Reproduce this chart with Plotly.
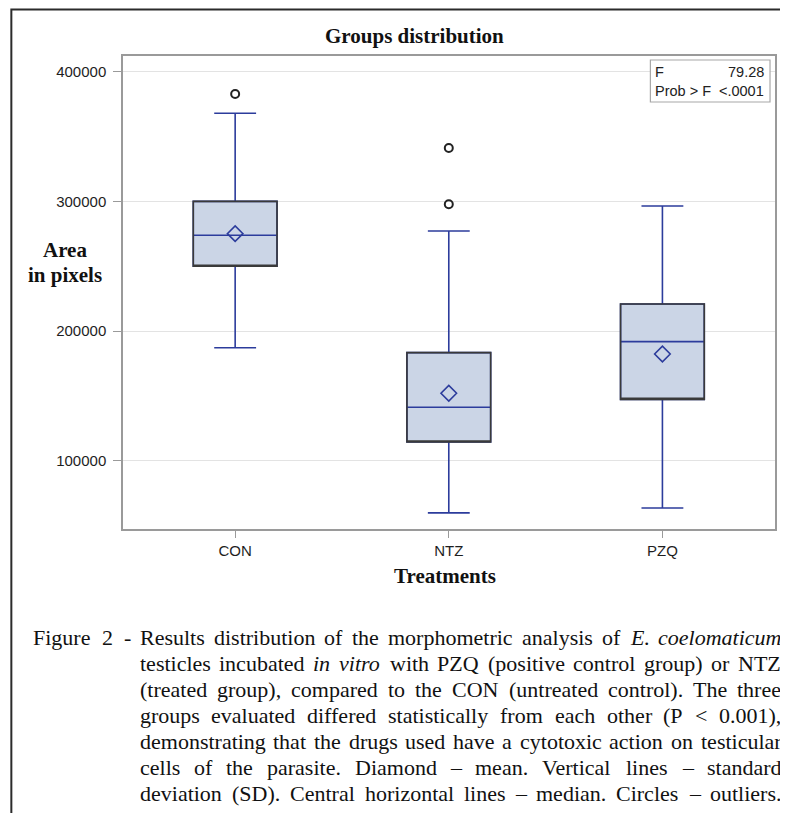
import plotly.graph_objects as go

# ---------------- data ----------------
categories = ["CON", "NTZ", "PZQ"]
q1 = [249900, 114400, 147300]
median = [273800, 141200, 191800]
q3 = [300000, 183300, 220800]
lower_whisker = [187100, 59700, 63500]
upper_whisker = [367900, 277100, 296400]
means = [275100, 152000, 182300]
outlier_groups = ["CON", "NTZ", "NTZ"]
outlier_values = [382800, 341200, 297700]
y_ticks = [100000, 200000, 300000, 400000]

title_text = "Groups distribution"
x_title = "Treatments"
y_title_lines = ["Area", "in pixels"]
stats_labels = ["F", "Prob > F"]
stats_values = ["79.28", "&lt;.0001"]

caption_lines = [
    "Figure 2 - Results distribution of the morphometric analysis of *E.* *coelomaticum*",
    "testicles incubated *in* *vitro* with PZQ (positive control group) or NTZ",
    "(treated group), compared to the CON (untreated control). The three",
    "groups evaluated differed statistically from each other (P < 0.001),",
    "demonstrating that the drugs used have a cytotoxic action on testicular",
    "cells of the parasite. Diamond – mean. Vertical lines – standard",
    "deviation (SD). Central horizontal lines – median. Circles – outliers.",
]

# ---------------- styling ----------------
OFF = 8                      # page body margin of the html page
W, H = 788 - OFF, 813 - OFF  # figure size so that it fills the window
L, R, T, B = 123, 777, 56, 529   # plot area in window pixels
BLUE = "#2c3c9c"
FILL = "#cbd5e6"
AXIS = "#9a9a9a"
SANS = "Liberation Sans, Arial, sans-serif"
SERIF = "Liberation Serif, Times New Roman, serif"


def px(x):
    return (x - L) / (R - L)


def py(y):
    return (B - y) / (B - T)


fig = go.Figure()

fig.add_trace(go.Box(
    x=categories, q1=q1, median=median, q3=q3,
    lowerfence=lower_whisker, upperfence=upper_whisker,
    width=0.392, whiskerwidth=0.5, fillcolor=FILL,
    line=dict(color=BLUE, width=1.6), boxpoints=False,
    hoverinfo="skip", showlegend=False))

fig.add_trace(go.Box(
    x=categories, q1=q1, median=q1, q3=q3,
    lowerfence=q1, upperfence=q3,
    width=0.392, whiskerwidth=0, fillcolor="rgba(0,0,0,0)",
    line=dict(color="#3a3a3a", width=1.6), boxpoints=False,
    hoverinfo="skip", showlegend=False))

fig.add_trace(go.Scatter(
    x=categories, y=means, mode="markers", showlegend=False,
    marker=dict(symbol="diamond-open", size=12, color=BLUE,
                line=dict(width=1.6, color=BLUE))))

fig.add_trace(go.Scatter(
    x=outlier_groups, y=outlier_values, mode="markers", showlegend=False,
    marker=dict(symbol="circle-open", size=8, color="#222222",
                line=dict(width=2, color="#222222"))))

fig.update_layout(
    width=W, height=H,
    margin=dict(l=L - OFF, r=(W + OFF) - R, t=T - OFF, b=(H + OFF) - B, pad=0),
    paper_bgcolor="white", plot_bgcolor="white",
    boxmode="overlay", showlegend=False,
    xaxis=dict(type="category", range=[-0.525, 2.527],
               showline=True, linecolor=AXIS, linewidth=1.5, mirror=True,
               ticks="outside", ticklen=7, tickcolor=AXIS, tickwidth=1.2,
               tickfont=dict(family=SANS, size=15, color="#1e1e1e"),
               showgrid=False, zeroline=False),
    yaxis=dict(range=[47300, 412100], tickvals=y_ticks, tickformat="d",
               showline=True, linecolor=AXIS, linewidth=1.5, mirror=True,
               ticks="outside", ticklen=8, tickcolor=AXIS, tickwidth=1.2,
               ticklabelstandoff=4,
               tickfont=dict(family=SANS, size=15, color="#1e1e1e"),
               showgrid=True, gridcolor="#e3e3e3", gridwidth=1,
               zeroline=False),
)

shapes = []
# outer figure frame
shapes.append(dict(type="rect", xref="paper", yref="paper",
                   x0=px(11), x1=px(805), y0=py(840), y1=py(9.5),
                   line=dict(color="#2b2b2b", width=2), fillcolor="rgba(0,0,0,0)",
                   layer="above"))
# stats inset box
shapes.append(dict(type="rect", xref="paper", yref="paper",
                   x0=px(652), x1=px(772), y0=py(102), y1=py(60),
                   line=dict(color="#a8a8a8", width=1.2), fillcolor="white",
                   layer="above"))
fig.update_layout(shapes=shapes)

ann = []
ann.append(dict(text="<b>%s</b>" % title_text, x=px(415), y=py(35.6),
                xref="paper", yref="paper", xanchor="center", yanchor="middle",
                showarrow=False, font=dict(family=SERIF, size=21, color="#111111")))
ann.append(dict(text="<b>%s</b>" % x_title, x=px(446), y=py(576),
                xref="paper", yref="paper", xanchor="center", yanchor="middle",
                showarrow=False, font=dict(family=SERIF, size=21, color="#111111")))
for i, t in enumerate(y_title_lines):
    ann.append(dict(text="<b>%s</b>" % t, x=px(65), y=py(250 + 25 * i),
                    xref="paper", yref="paper", xanchor="center", yanchor="middle",
                    showarrow=False, font=dict(family=SERIF, size=21, color="#111111")))
for i, (lab, val) in enumerate(zip(stats_labels, stats_values)):
    yy = py(72.3 + 18.5 * i)
    ann.append(dict(text=lab, x=px(655), y=yy, xref="paper", yref="paper",
                    xanchor="left", yanchor="middle", showarrow=False,
                    font=dict(family=SANS, size=14.5, color="#222222")))
    ann.append(dict(text=val, x=px(768), y=yy, xref="paper", yref="paper",
                    xanchor="right", yanchor="middle", showarrow=False,
                    font=dict(family=SANS, size=14.5, color="#222222")))

# ---- justified caption (Times / Liberation Serif metrics) ----
ROMAN = {'a': 444, 'b': 500, 'c': 444, 'd': 500, 'e': 444, 'f': 333, 'g': 500, 'h': 500,
         'i': 278, 'j': 278, 'k': 500, 'l': 278, 'm': 778, 'n': 500, 'o': 500, 'p': 500,
         'q': 500, 'r': 333, 's': 389, 't': 278, 'u': 500, 'v': 500, 'w': 722, 'x': 500,
         'y': 500, 'z': 444, 'A': 722, 'B': 667, 'C': 667, 'D': 722, 'E': 611, 'F': 556,
         'G': 722, 'H': 722, 'I': 333, 'J': 389, 'K': 722, 'L': 611, 'M': 889, 'N': 722,
         'O': 722, 'P': 556, 'Q': 722, 'R': 667, 'S': 556, 'T': 611, 'U': 722, 'V': 722,
         'W': 944, 'X': 722, 'Y': 722, 'Z': 611, '.': 250, ',': 250, '-': 333, '(': 333,
         ')': 333, '<': 564, '–': 500}
for d in "0123456789":
    ROMAN[d] = 500
ITALIC = {'a': 500, 'b': 500, 'c': 444, 'd': 500, 'e': 444, 'f': 278, 'g': 500, 'h': 500,
          'i': 278, 'j': 278, 'k': 444, 'l': 278, 'm': 722, 'n': 500, 'o': 500, 'p': 500,
          'q': 500, 'r': 389, 's': 389, 't': 278, 'u': 500, 'v': 444, 'w': 667, 'x': 444,
          'y': 444, 'z': 389, 'E': 611, '.': 250}
CAP_SIZE = 22


def word_width(w, italic):
    tab = ITALIC if italic else ROMAN
    return sum(tab.get(c, 500) for c in w) * CAP_SIZE / 1000.0


def place_segment(tokens, x0, x1, yc):
    items = []
    for tk in tokens:
        it = tk.startswith("*") and tk.endswith("*")
        w = tk.strip("*") if it else tk
        items.append((w, it, word_width(w, it)))
    total = sum(i[2] for i in items)
    gap = (x1 - x0 - total) / max(1, len(items) - 1)
    x = x0
    for w, it, ww in items:
        txt = w.replace("<", "&lt;")
        if it:
            txt = "<i>%s</i>" % txt
        ann.append(dict(text=txt, x=px(x - 1), y=py(yc), xref="paper", yref="paper",
                        xanchor="left", yanchor="middle", showarrow=False,
                        font=dict(family=SERIF, size=CAP_SIZE, color="#111111")))
        x += ww + gap


for i, line in enumerate(caption_lines):
    toks = line.split(" ")
    yc = 637 + 26.05 * i
    if i == 0:
        place_segment(toks[:3], 32, 130, yc)
        place_segment(toks[3:], 139, 782, yc)
    else:
        place_segment(toks, 139, 782, yc)

fig.update_layout(annotations=ann)
fig.write_html("out.html")
